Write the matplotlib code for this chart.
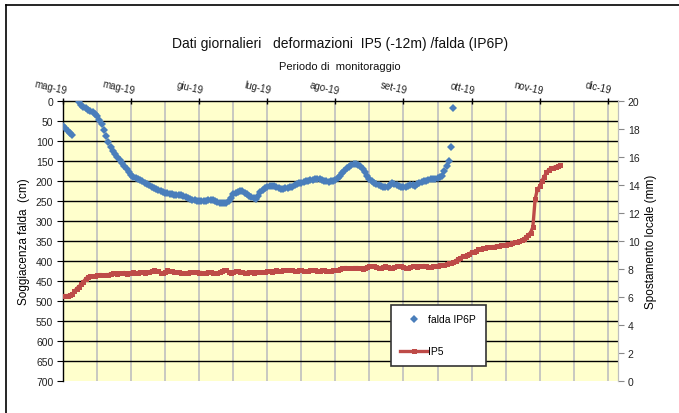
import matplotlib
matplotlib.use("Agg")
import matplotlib.pyplot as plt
from matplotlib.lines import Line2D

plt.rcParams['font.family'] = ['Liberation Sans', 'DejaVu Sans']

# ---- data (daily readings, day 0 = start of monitoring) ----
month_labels = ["mag-19", "mag-19", "giu-19", "lug-19", "ago-19", "set-19", "ott-19", "nov-19", "dic-19"]
month_days = [0, 30, 60, 90, 120, 150, 180, 210, 240]

falda_days_a = [0, 1, 2, 3, 4]
falda_cm_a = [62, 68, 74, 80, 86]
falda_start_b = 7
falda_cm_b = [3, 10, 15, 18, 22, 25, 28, 32, 38, 48, 58, 72, 88, 102, 115, 124, 132, 140, 148, 156,
              163, 171, 178, 184, 189, 192, 195, 198, 200, 204, 208, 211, 214, 217, 220, 223, 226, 228, 229, 231,
              232, 233, 234, 234, 235, 236, 238, 241, 243, 245, 247, 248, 249, 250, 250, 250, 249, 248, 247, 248,
              250, 253, 255, 256, 256, 254, 250, 242, 233, 229, 227, 225, 225, 229, 233, 237, 240, 243, 245, 238,
              228, 222, 218, 215, 213, 212, 212, 215, 218, 219, 220, 218, 217, 216, 214, 211, 208, 206, 204, 202,
              200, 199, 198, 197, 196, 195, 196, 198, 200, 201, 202, 201, 200, 197, 193, 187, 180, 174, 168, 164,
              160, 158, 157, 159, 163, 170, 178, 187, 195, 200, 204, 207, 209, 212, 215, 216, 214, 209, 205, 207,
              210, 213, 215, 215, 214, 212, 210, 211, 212, 208, 205, 202, 200, 199, 198, 196, 195, 194, 193, 191,
              188, 175, 162, 150, 115, 17]
falda_days_b = list(range(falda_start_b, falda_start_b + len(falda_cm_b)))

ip5_mm = [6.1, 6.1, 6.1, 6.15, 6.2, 6.4, 6.6, 6.75, 6.9, 7.1, 7.3, 7.45, 7.5, 7.5, 7.5, 7.55, 7.6, 7.6, 7.55, 7.6,
          7.6, 7.65, 7.7, 7.7, 7.65, 7.7, 7.7, 7.75, 7.65, 7.7, 7.75, 7.8, 7.7, 7.75, 7.8, 7.8, 7.75, 7.8, 7.8, 7.85,
          7.9, 7.85, 7.85, 7.75, 7.7, 7.8, 7.9, 7.85, 7.85, 7.8, 7.8, 7.8, 7.75, 7.7, 7.7, 7.75, 7.8, 7.8, 7.8, 7.8,
          7.75, 7.75, 7.7, 7.75, 7.8, 7.8, 7.75, 7.7, 7.7, 7.8, 7.85, 7.9, 7.9, 7.8, 7.75, 7.8, 7.85, 7.85, 7.8, 7.8,
          7.75, 7.75, 7.8, 7.8, 7.75, 7.8, 7.8, 7.8, 7.8, 7.8, 7.85, 7.85, 7.8, 7.85, 7.9, 7.85, 7.85, 7.9, 7.95, 7.9,
          7.9, 7.9, 7.85, 7.85, 7.9, 7.9, 7.85, 7.85, 7.85, 7.9, 7.9, 7.9, 7.85, 7.85, 7.9, 7.9, 7.85, 7.85, 7.85, 7.9,
          7.9, 7.95, 8.0, 8.05, 8.1, 8.1, 8.05, 8.05, 8.1, 8.1, 8.1, 8.05, 8.0, 8.1, 8.15, 8.2, 8.2, 8.2, 8.15, 8.1,
          8.1, 8.15, 8.2, 8.15, 8.1, 8.1, 8.15, 8.2, 8.2, 8.2, 8.15, 8.1, 8.1, 8.15, 8.2, 8.2, 8.15, 8.2, 8.2, 8.25,
          8.2, 8.15, 8.15, 8.2, 8.2, 8.25, 8.3, 8.3, 8.3, 8.35, 8.4, 8.45, 8.5, 8.6, 8.7, 8.8, 8.9, 8.95, 9.0, 9.1,
          9.2, 9.25, 9.3, 9.4, 9.45, 9.5, 9.5, 9.55, 9.55, 9.6, 9.6, 9.65, 9.65, 9.7, 9.7, 9.75, 9.8, 9.8, 9.85, 9.9,
          9.95, 10.0, 10.05, 10.15, 10.3, 10.45, 10.6, 11.0, 13.0, 13.7, 13.9, 14.3, 14.6, 14.9, 15.1, 15.2, 15.25,
          15.3, 15.35, 15.4]
ip5_days = list(range(len(ip5_mm)))

left_ticks = list(range(0, 701, 50))
right_ticks = list(range(0, 21, 2))

BLUE = '#4A7EBB'
RED = '#BE4B48'

# ---- figure ----
W, H = 679, 414
fig = plt.figure(figsize=(W / 100, H / 100), dpi=100)
fig.patch.set_facecolor('white')

# outer chart border (top and left visible)
fig.add_artist(Line2D([6 / W, 1.0], [1 - 6 / H, 1 - 6 / H], transform=fig.transFigure, color='black', lw=1.2))
fig.add_artist(Line2D([6 / W, 6 / W], [0, 1 - 6 / H], transform=fig.transFigure, color='black', lw=1.2))

L, R, T, B = 63, 618, 102, 382
ax = fig.add_axes([L / W, 1 - B / H, (R - L) / W, (B - T) / H])
ax.set_facecolor('#FFFFCC')
ax.set_xlim(0, 244.5)
ax.set_ylim(700, 0)

# grid
for d in range(15, 241, 15):
    ax.axvline(d, color='#BFBFBF', lw=1.2, zorder=1)
for v in left_ticks[1:-1]:
    ax.axhline(v, color='black', lw=1.0, zorder=1)

mk = dict(linestyle='none', marker='D', markersize=4.0, color=BLUE, markeredgewidth=0, zorder=3)
ax.plot(falda_days_a, falda_cm_a, **mk)
ax.plot(falda_days_b, falda_cm_b, **mk)

ax.set_yticks(left_ticks)
ax.set_yticklabels([str(v) for v in left_ticks], fontsize=7.5, color='#222222')
ax.tick_params(axis='y', direction='out', length=4, width=0.8, pad=3)

ax.xaxis.tick_top()
ax.set_xticks(month_days)
ax.set_xticklabels([])
ax.tick_params(axis='x', direction='inout', length=5, width=1.0, color='black')
for d, lab in zip(month_days, month_labels):
    ax.text(d + 1, -14, lab, fontsize=7, rotation=-13, ha='right', va='bottom',
            rotation_mode='anchor', color='#222222', clip_on=False)

for s in ['top', 'left']:
    ax.spines[s].set_color('black')
    ax.spines[s].set_linewidth(1.0)
ax.spines['bottom'].set_visible(False)
ax.spines['right'].set_color('#BFBFBF')

ax.set_ylabel('Soggiacenza falda  (cm)', fontsize=8.5, labelpad=4)

ax2 = ax.twinx()
ax2.set_ylim(0, 20)
ax2.plot(ip5_days, ip5_mm, color=RED, lw=2.4, marker='s', markersize=3.6,
         markeredgewidth=0, zorder=4)
ax2.set_yticks(right_ticks)
ax2.set_yticklabels([str(v) for v in right_ticks], fontsize=7.5, color='#222222')
ax2.tick_params(axis='y', direction='out', length=4, width=0.8, color='#888888', pad=3)
ax2.spines['right'].set_color('#BFBFBF')
ax2.spines['top'].set_visible(False)
ax2.spines['bottom'].set_visible(False)
ax2.spines['left'].set_visible(False)
ax2.set_ylabel('Spostamento locale (mm)', fontsize=8.5, labelpad=4)

# texts
fig.text(340 / W, 1 - 44 / H, 'Dati giornalieri   deformazioni  IP5 (-12m) /falda (IP6P)',
         fontsize=10, ha='center', va='center', color='#111111')
fig.text(340 / W, 1 - 67 / H, 'Periodo di  monitoraggio', fontsize=8, ha='center', va='center',
         color='#111111')

# legend
h1 = Line2D([], [], linestyle='none', marker='D', markersize=4.2, color=BLUE, markeredgewidth=0)
h2 = Line2D([], [], color=RED, lw=2.4, marker='s', markersize=3.6, markeredgewidth=0)
leg = fig.legend([h1, h2], ['falda IP6P', 'IP5'], loc='upper left',
                 bbox_to_anchor=(391 / W, 1 - 306 / H), borderaxespad=0, fontsize=7.5, frameon=True,
                 fancybox=False, edgecolor='#333333', framealpha=1, labelspacing=2.1,
                 handlelength=2.6, borderpad=0.9, handletextpad=0.1)
leg.get_frame().set_linewidth(1.2)

fig.savefig('out.png', dpi=100)
